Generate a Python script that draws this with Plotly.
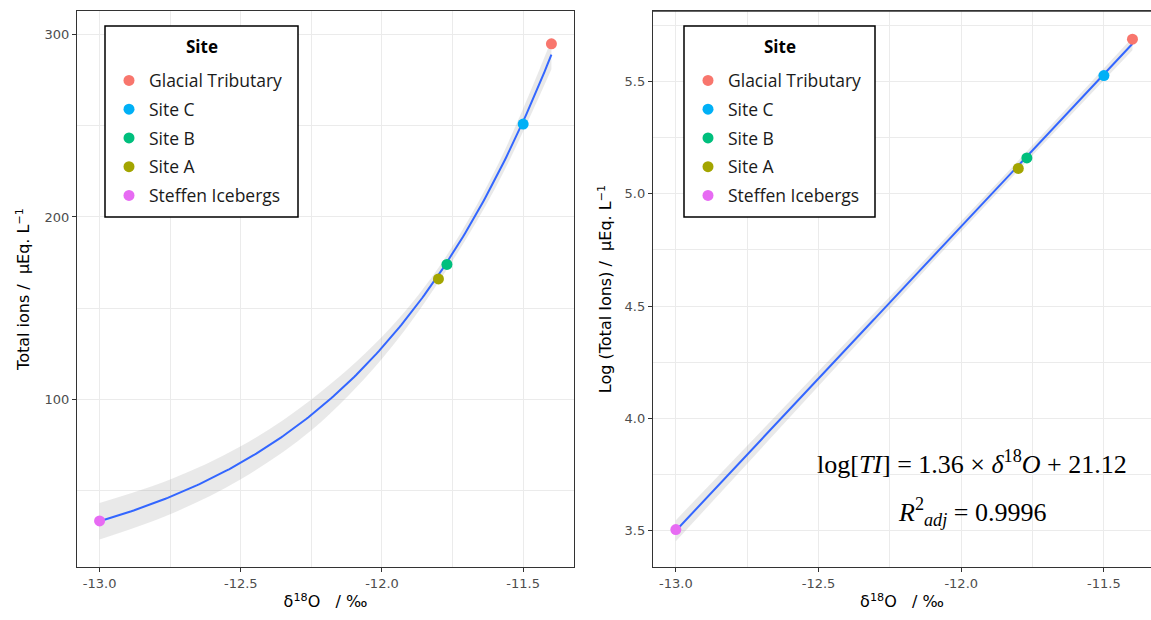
import numpy as np
import plotly.graph_objects as go

# Sampling sites and their measurements
sites = ["Glacial Tributary", "Site C", "Site B", "Site A", "Steffen Icebergs"]
site_colors = ["#F8766D", "#00B0F6", "#00BF7D", "#A3A500", "#E76BF3"]
d18o = [-11.40, -11.50, -11.77, -11.80, -13.00]
total_ions = [295.0, 251.0, 174.0, 166.0, 33.3]

# Half-width of the shaded confidence band on the raw-scale panel
band_x = [-13.0, -12.75, -12.5, -12.25, -12.0, -11.8, -11.6, -11.4]
band_half = [10.0, 9.5, 9.0, 8.5, 6.0, 4.0, 5.0, 8.0]

# Tick labels
x_tick_vals = [-13.0, -12.5, -12.0, -11.5]
x_tick_text = ["-13.0", "-12.5", "-12.0", "-11.5"]
left_y_ticks = [100, 200, 300]
right_y_ticks = [3.5, 4.0, 4.5, 5.0, 5.5]
right_y_text = ["3.5", "4.0", "4.5", "5.0", "5.5"]

legend_title = "<b>Site</b>"
equation_text = "log[<i>TI</i>] = 1.36 × <i>δ</i><sup>18</sup><i>O</i> + 21.12"
r2_text = "<i>R</i><sup>2</sup><sub><i>adj</i></sub> = 0.9996"

# ---- linear fit of log(total ions) against d18O ----
x_arr = np.array(d18o)
log_ti = np.log(np.array(total_ions))
slope, intercept = np.polyfit(x_arr, log_ti, 1)
x_fit = np.linspace(min(d18o), max(d18o), 200)
log_fit = intercept + slope * x_fit

n = len(x_arr)
resid = log_ti - (intercept + slope * x_arr)
sigma = np.sqrt(np.sum(resid ** 2) / (n - 2))
sxx = np.sum((x_arr - x_arr.mean()) ** 2)
se_fit = sigma * np.sqrt(1.0 / n + (x_fit - x_arr.mean()) ** 2 / sxx)
t_crit = 3.182  # t(0.975, df=3)
log_lo = log_fit - t_crit * se_fit
log_hi = log_fit + t_crit * se_fit

bx = np.array(band_x)
raw_center = np.exp(intercept + slope * bx)
raw_lo = raw_center - np.array(band_half)
raw_hi = raw_center + np.array(band_half)

LINE_BLUE = "#3366FF"
BAND_GREY = "rgba(153,153,153,0.22)"

fig = go.Figure()

# ---- left panel: raw scale ----
fig.add_trace(go.Scatter(x=bx, y=raw_lo, mode="lines", line=dict(width=0, shape="spline"),
                         showlegend=False, hoverinfo="skip", xaxis="x", yaxis="y"))
fig.add_trace(go.Scatter(x=bx, y=raw_hi, mode="lines", line=dict(width=0, shape="spline"),
                         fill="tonexty", fillcolor=BAND_GREY,
                         showlegend=False, hoverinfo="skip", xaxis="x", yaxis="y"))
fig.add_trace(go.Scatter(x=x_fit, y=np.exp(log_fit), mode="lines",
                         line=dict(color=LINE_BLUE, width=2),
                         showlegend=False, hoverinfo="skip", xaxis="x", yaxis="y"))
for i, (s, c) in enumerate(zip(sites, site_colors)):
    fig.add_trace(go.Scatter(x=[d18o[i]], y=[total_ions[i]], mode="markers", name=s,
                             marker=dict(color=c, size=11), legend="legend",
                             legendgroup=f"L{i}", xaxis="x", yaxis="y"))

# ---- right panel: log scale ----
fig.add_trace(go.Scatter(x=x_fit, y=log_lo, mode="lines", line=dict(width=0),
                         showlegend=False, hoverinfo="skip", xaxis="x2", yaxis="y2"))
fig.add_trace(go.Scatter(x=x_fit, y=log_hi, mode="lines", line=dict(width=0),
                         fill="tonexty", fillcolor=BAND_GREY,
                         showlegend=False, hoverinfo="skip", xaxis="x2", yaxis="y2"))
fig.add_trace(go.Scatter(x=x_fit, y=log_fit, mode="lines",
                         line=dict(color=LINE_BLUE, width=2),
                         showlegend=False, hoverinfo="skip", xaxis="x2", yaxis="y2"))
for i, (s, c) in enumerate(zip(sites, site_colors)):
    fig.add_trace(go.Scatter(x=[d18o[i]], y=[log_ti[i]], mode="markers", name=s,
                             marker=dict(color=c, size=11), legend="legend2",
                             legendgroup=f"R{i}", xaxis="x2", yaxis="y2"))

W, H = 1151, 620
BORDER = "#333333"
GRID = "#EBEBEB"
tick_font = dict(family="DejaVu Sans", size=13, color="#4D4D4D")
title_font = dict(family="DejaVu Sans", size=16, color="black")

y_dom = [1 - 567 / H, 1 - 11 / H]

common_x = dict(showline=True, linecolor=BORDER, linewidth=1.3, mirror=True,
                ticks="outside", ticklen=4, tickcolor=BORDER, tickwidth=1,
                tickvals=x_tick_vals, ticktext=x_tick_text, tickfont=tick_font,
                showgrid=True, gridcolor=GRID, gridwidth=1, zeroline=False,
                minor=dict(dtick=0.25, tick0=0, showgrid=True, gridcolor=GRID, gridwidth=1),
                title=dict(text="δ<sup>18</sup>O\u00a0\u00a0 / ‰", font=title_font, standoff=6))

# legend boxes (frame + title) and the native legend items inside them
box_top, box_bottom = 26, 217
boxes = {"legend": (105, 298), "legend2": (684, 875)}
item_font = dict(family="Open Sans", size=17.5, color="#1A1A1A")

def legend_cfg(left_px):
    return dict(x=(left_px + 4) / W, y=1 - 62.5 / H, xanchor="left", yanchor="top",
                bgcolor="rgba(0,0,0,0)", borderwidth=0, font=item_font,
                tracegroupgap=3)

shapes = []
annotations = []
for name, (x0, x1) in boxes.items():
    shapes.append(dict(type="rect", xref="paper", yref="paper",
                       x0=x0 / W, x1=x1 / W, y0=1 - box_bottom / H, y1=1 - box_top / H,
                       line=dict(color="black", width=1.5), fillcolor="white", layer="above"))
    annotations.append(dict(text=legend_title, x=(x0 + x1) / 2 / W, y=1 - 46 / H,
                            xref="paper", yref="paper", xanchor="center", yanchor="middle",
                            showarrow=False,
                            font=dict(family="Open Sans", size=17, color="black")))

# line along the top of the right panel
shapes.append(dict(type="line", xref="x2 domain", yref="y2 domain", x0=0, x1=1, y0=1, y1=1,
                   line=dict(color=BORDER, width=1.3)))

eq_font = dict(family="Liberation Serif", size=26, color="black")
annotations += [
    dict(text=equation_text, x=972 / W, y=1 - 462 / H, xref="paper", yref="paper",
         xanchor="center", yanchor="middle", showarrow=False, font=eq_font),
    dict(text=r2_text, x=972 / W, y=1 - 512 / H, xref="paper", yref="paper",
         xanchor="center", yanchor="middle", showarrow=False, font=eq_font),
]

fig.update_layout(
    width=W, height=H,
    margin=dict(l=0, r=0, t=0, b=0),
    paper_bgcolor="white", plot_bgcolor="white",
    xaxis=dict(common_x, domain=[77 / W, 574 / W], range=[-13.08, -11.32], anchor="y"),
    yaxis=dict(domain=y_dom, range=[8, 313], anchor="x",
               showline=True, linecolor=BORDER, linewidth=1.3, mirror=True,
               ticks="outside", ticklen=4, tickcolor=BORDER, tickwidth=1,
               tickvals=left_y_ticks, tickfont=tick_font,
               showgrid=True, gridcolor=GRID, gridwidth=1, zeroline=False,
               minor=dict(dtick=50, tick0=0, showgrid=True, gridcolor=GRID, gridwidth=1),
               title=dict(text="Total ions /\u00a0\u00a0μEq. L<sup>−1</sup>", font=title_font, standoff=10)),
    xaxis2=dict(common_x, domain=[653 / W, 1.0], range=[-13.08, -11.335], anchor="y2"),
    yaxis2=dict(domain=y_dom, range=[3.339, 5.8125], anchor="x2",
                showline=True, linecolor=BORDER, linewidth=1.3, mirror=False,
                ticks="outside", ticklen=4, tickcolor=BORDER, tickwidth=1,
                tickvals=right_y_ticks, ticktext=right_y_text, tickfont=tick_font,
                showgrid=True, gridcolor=GRID, gridwidth=1, zeroline=False,
                minor=dict(dtick=0.25, tick0=0, showgrid=True, gridcolor=GRID, gridwidth=1),
                title=dict(text="Log (Total Ions) /\u00a0\u00a0μEq. L<sup>−1</sup>", font=title_font, standoff=8)),
    legend=legend_cfg(boxes["legend"][0]),
    legend2=legend_cfg(boxes["legend2"][0]),
    shapes=shapes,
    annotations=annotations,
)

fig.write_html("out.html")
